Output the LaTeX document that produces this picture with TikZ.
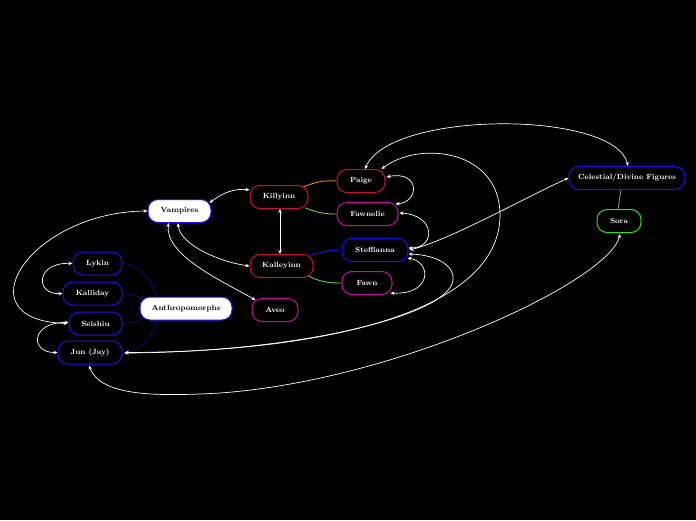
\documentclass[tikz,border=0pt]{standalone}
\usetikzlibrary{arrows.meta,calc}
\definecolor{cblue}{HTML}{2A0AE8}
\definecolor{cdblue}{HTML}{1E0E86}
\definecolor{ccrim}{HTML}{C8103C}
\definecolor{cmag}{HTML}{C412A4}
\definecolor{cgreen}{HTML}{36E012}
\definecolor{corange}{HTML}{D88A10}
\definecolor{clgreen}{HTML}{70D010}
\begin{document}
\begin{tikzpicture}[x=1pt,y=-1pt,
  box/.style={draw, line width=1pt, rounded corners=10pt, minimum height=23pt, inner sep=0pt,
    text=white, fill=black, font=\fontsize{7.5}{9}\selectfont\bfseries},
  wbox/.style={box, fill=white, text=black, draw=cblue},
  rel/.style={draw=white, line width=0.7pt, {Stealth[length=4pt,width=3.5pt]}-{Stealth[length=4pt,width=3.5pt]}},
  tree/.style={line width=0.9pt}]
\useasboundingbox (0,0) rectangle (696,520);
\fill[black] (0,0) rectangle (696,520);

% nodes
\node[wbox, minimum width=63pt] (vamp) at (179.5,211) {Vampires};
\node[box, draw=ccrim, minimum width=58pt] (killy) at (279,197) {Killyinn};
\node[box, draw=ccrim, minimum width=63pt] (kalley) at (281.5,266) {Kalleyinn};
\node[box, draw=ccrim, minimum width=48pt] (paige) at (361,181) {Paige};
\node[box, draw=cmag, minimum width=61pt] (fawnelle) at (367.5,214) {Fawnelle};
\node[box, draw=cblue, minimum width=66pt] (steff) at (375,250) {Steffianna};
\node[box, draw=cmag, minimum width=50pt] (fawn) at (367,283) {Fawn};
\node[box, draw=cmag, minimum width=46pt] (aveo) at (275,310) {Aveo};
\node[box, draw=cblue, minimum width=116pt] (cel) at (627,178) {Celestial/Divine Figures};
\node[box, draw=cgreen, minimum width=44pt] (sora) at (619,221) {Sora};
\node[box, draw=cblue, minimum width=49pt] (lykin) at (97.5,263.5) {Lykin};
\node[box, draw=cblue, minimum width=59pt] (kalli) at (92.5,293.5) {Kalliday};
\node[box, draw=cblue, minimum width=53pt] (seishiu) at (95.5,323.5) {Seishiu};
\node[box, draw=cblue, minimum width=64pt] (jun) at (90,352.5) {Jun (Jay)};
\node[wbox, minimum width=92pt] (anth) at (186,308.5) {Anthropomorphs};

% tree connectors
\draw[tree, corange] ($(killy.north east)+(-5,2)$) .. controls (315,182) and (325,180) .. (paige.west);
\draw[tree, clgreen] ($(killy.south east)+(-3,-1)$) .. controls (318,213) and (325,214) .. (fawnelle.west);
\draw[tree, cblue] ($(kalley.north east)+(-5,2)$) .. controls (320,252) and (330,250) .. (steff.west);
\draw[tree, clgreen] ($(kalley.south east)+(-5,-2)$) .. controls (320,282) and (330,283) .. (fawn.west);
\draw[tree, cdblue, line width=0.6pt] ($(anth.north west)+(18,0)$) .. controls (150,280) and (140,264) .. (lykin.east);
\draw[tree, cdblue, line width=0.6pt] (kalli.east) .. controls (135,294) and (140,297) .. ($(anth.north west)+(4,3)$);
\draw[tree, cdblue, line width=0.6pt] (seishiu.east) .. controls (135,323) and (140,320) .. ($(anth.south west)+(4,-3)$);
\draw[tree, cdblue, line width=0.6pt] ($(anth.south west)+(18,0)$) .. controls (150,340) and (140,352) .. ($(jun.east)+(1,0)$);
\draw[line width=0.7pt, gray!70!white] ($(cel.south)+(-6,0)$) -- ($(sora.north)+(-1,0)$);

% relations
\draw[rel] ($(vamp.east)+(-2,-8)$) .. controls (222,193) and (235,188) .. ($(killy.west)+(0,-7)$);
\draw[rel] ($(killy.south)+(1,0)$) -- ($(kalley.north)+(-1.5,0)$);
\draw[rel] ($(vamp.south)+(-1.5,0)$) .. controls (180,245) and (220,262) .. (kalley.west);
\draw[rel] ($(vamp.south)+(-11,0)$) .. controls (165,255) and (220,280) .. ($(aveo.north west)+(4,2)$);
\draw[rel] ($(paige.east)+(1,-4)$) .. controls (420,170) and (420,202) .. ($(fawnelle.east)+(-3,-10)$);
\draw[rel] ($(fawnelle.east)+(1,-1)$) .. controls (436,215) and (436,248) .. ($(steff.east)+(0,-2)$);
\draw[rel] ($(steff.east)+(-1,8)$) .. controls (432,262) and (432,295) .. ($(fawn.east)+(-2,10)$);
\draw[rel] ($(steff.east)+(1,0)$) .. controls (450,240) and (530,195) .. (cel.west);
\draw[rel] ($(paige.north)+(4,0)$) .. controls (390,110) and (615,110) .. ($(cel.north)+(1,0)$);
\draw[rel] ($(paige.north east)+(-4,0)$) .. controls (420,140) and (500,150) .. (500,215)
   .. controls (500,310) and (330,352) .. ($(jun.east)+(2,0)$);
\draw[rel] ($(steff.east)+(0,4)$) .. controls (440,255) and (455,268) .. (453,280)
   .. controls (450,315) and (300,352) .. ($(jun.east)+(2,0.5)$);
\draw[rel] ($(jun.south)+(-1,1)$) .. controls (100,395) and (150,397) .. (220,393)
   .. controls (400,380) and (610,280) .. ($(sora.south)+(1,1)$);
\draw[rel] (vamp.west) .. controls (30,212) and (-40,320) .. ($(seishiu.west)+(-1,0)$);
\draw[rel] (lykin.west) .. controls (35,262) and (35,295) .. (kalli.west);
\draw[rel] ($(seishiu.west)+(0,-1)$) .. controls (30,322) and (30,353) .. (jun.west);
\end{tikzpicture}
\end{document}
